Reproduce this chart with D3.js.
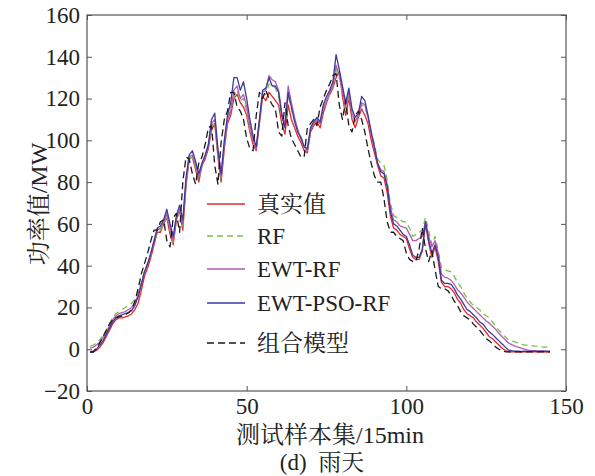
<!DOCTYPE html>
<html>
<head>
<meta charset="utf-8">
<script src="https://cdn.jsdelivr.net/npm/d3@7"></script>
<style>
  body { margin: 0; background: #fff; }
  text { font-family: "Liberation Serif", "Times New Roman", "Noto Serif CJK SC", "Noto Sans CJK SC", serif; fill: #222; }
</style>
</head>
<body>
<div id="chart"></div>
<script>
// sample index 1..145
var xIdx = d3.range(1, 146);

var trueVals = [-1,-1,-0.5,1,3,6,9,12,14,15,15,15.5,16,17,19,22,28,35,39,44,
  50,56,56,60,63,55,50,62,66,57,78,91,92,86,80,88,91,96,105,108,
  92,80,96,108,112,120,122,118,116,112,104,98,95,108,121,119,123,121,119,117,
  108,103,117,110,106,102,99,95,94,104,107,109,106,113,118,122,125,130,133,121,
  112,120,110,106,111,115,112,108,100,94,88,83,82,75,64,58,57,55,54,53,
  48,44,43,43,47,60,51,44,49,42,32,30,30,29,27,24,22,19,17,16,
  15,13,11.6,10,8,6,5,3.5,2,0.5,-0.5,-1.3,-1.3,-1.2,-1.3,-1.4,-1.3,-1.2,-1.3,-1.3,
  -1.2,-1.3,-1.3,-1.4,-1.3];

var rfVals = [1.5,2,3,4.5,6.5,9,12,15,17,18,19,20,21,22,24,27,32,37,41,45,
  51,56,57,60,64,57,51,62,66,59,79,91,92,87,81,88,92,97,107,109,
  93,81,97,110,115,121,124,119,120,114,105,99,96,109,122,122,127,126,125,121,
  111,106,122,115,110,105,102,98,95,105,108,110,108,115,119,122,126,134,130,123,
  115,122,113,109,112,117,116,111,104,98,91,89,88,81,70,64,63,62,61,61,
  58,54,55,56,57,63,57,50,54,47,39,38,37.5,37,35,32,30,27,24.5,22.6,
  21,20,18.8,17,16,15,13,11,9,7.5,6,4.4,4,3.5,3,2.5,2,2,1.8,1.5,
  1.5,1.2,1,1,1];

var ewtRfVals = [0.5,1,2,3.5,5.5,8,11,14,16,17,17.5,18,19,20,22,26,31,37,41,46,
  52,57,58,61,65,58,52,63,67,60,80,92,93,88,82,88,92,97,108,110,
  94,82,98,110,114,124,126,120,122,116,107,100,96,109,123,124,131,129,128,124,
  113,108,126,118,111,105,101,97,95,105,108,110,108,115,119,123,126,136,131,124,
  116,123,113,109,112,118,117,111,103,96,89,86,85,79,68,62,61,59,58.5,58,
  55,52,52,53,54,61,54,49,52,46,36,34.5,34,33,31,28.5,27,25,22.6,21,
  19.5,18,16.5,15,13.5,12.5,11,9.5,7.5,6,4.5,3,2.2,1.5,1,0.5,0,-0.4,-0.6,-0.7,
  -0.8,-0.8,-0.9,-0.9,-0.9];

var psoVals = [-1.5,-1.5,0,2,4,7,10,13,15,16,16.5,17,17.5,18.5,21,25,31,37,41,46,
  52,58,59,62,67,60,54,64,69,62,82,93,95,90,84,89,93,98,110,113,
  96,84,100,112,118,130,130,124,128,120,110,102,97,110,124,125,130,126,126,123,
  112,106,123,116,109,104,101,97,96,106,109,111,109,117,121,124,128,141,134,126,
  118,125,115,111,113,121,119,112,104,97,89,85,84,78,66,60,59,57,55,54,
  50,45,44,44,48,61,52,46,50,44,33,31.5,31.5,31,29,26,24,21.5,19,18,
  16.5,15,13,12,10,8.2,7,5.5,4,2.5,1,-0.4,-0.7,-0.9,-0.9,-1,-0.9,-1,-1,-0.9,
  -1,-1,-0.9,-1,-1];

var comboVals = [-1.5,-1,0.5,3,6,9,12,14,15,15.5,16,16.5,17.5,19,23,29,36,41,46,52,
  57,57,61,62,52,49,63,65,56,80,92,91,84,79,89,92,98,106,107,88,
  79,99,110,114,123,123,116,114,110,101,96,95,112,123,120,124,120,117,115,104,
  102,118,107,101,98,95,92,92,106,108,110,107,116,120,124,127,131,132,117,110,
  119,107,104,112,114,110,104,96,89,83,80,80,72,61,56,56,54,53,52,46,
  43,42,42,48,58,48,42,47,38,30,29,29,28,26,23,21,18,16,15,14,
  12,10.5,9,7,5,4,2.5,1,0,-0.8,-1.2,-1.3,-1.3,-1.2,-1.3,-1.3,-1.2,-1.3,-1.3,-1.2,
  -1.3,-1.3,-1.2,-1.3,-1.3];

var seriesNames = ['真实值', 'RF', 'EWT-RF', 'EWT-PSO-RF', '组合模型'];
var seriesVals = [trueVals, rfVals, ewtRfVals, psoVals, comboVals];
var seriesColors = ['#e8262b', '#7cc043', '#b15bb5', '#3b3a9c', '#1a1a1a'];
var seriesDash = [null, '6,4', null, null, '7,4'];
var drawOrder = [0, 1, 2, 3, 4];

var xTicks = [0, 50, 100, 150];
var yTicks = [-20, 0, 20, 40, 60, 80, 100, 120, 140, 160];

var W = 595, H = 476;
var plotL = 87, plotR = 566, plotT = 15, plotB = 391;

var svg = d3.select('#chart').append('svg')
  .attr('width', W)
  .attr('height', H);

var x = d3.scaleLinear().domain([0, 150]).range([plotL, plotR]);
var y = d3.scaleLinear().domain([-20, 160]).range([plotB, plotT]);

var line = d3.line()
  .x(function (d, i) { return x(xIdx[i]); })
  .y(function (d) { return y(d); });

svg.append('clipPath').attr('id', 'clip')
  .append('rect')
  .attr('x', plotL).attr('y', plotT)
  .attr('width', plotR - plotL).attr('height', plotB - plotT);

var lines = svg.append('g').attr('clip-path', 'url(#clip)');
drawOrder.forEach(function (k) {
  lines.append('path')
    .datum(seriesVals[k])
    .attr('d', line)
    .attr('fill', 'none')
    .attr('stroke', seriesColors[k])
    .attr('stroke-width', 1.3)
    .attr('stroke-linejoin', 'round')
    .attr('stroke-dasharray', seriesDash[k]);
});

// axes, ticks pointing inward
function styleAxis(g) {
  g.selectAll('.domain').remove();
  g.selectAll('.tick line').attr('stroke', '#555').attr('stroke-width', 1);
  g.selectAll('text').attr('font-size', '23px')
    .style('font-family', '"Liberation Serif", "Times New Roman", serif')
    .attr('fill', '#222');
}

svg.append('g')
  .attr('transform', 'translate(0,' + plotB + ')')
  .call(d3.axisBottom(x).tickValues(xTicks).tickSize(-5).tickPadding(7))
  .call(styleAxis);

svg.append('g')
  .attr('transform', 'translate(0,' + plotT + ')')
  .call(d3.axisTop(x).tickValues(xTicks).tickSize(-5).tickFormat(''))
  .call(styleAxis);

svg.append('g')
  .attr('transform', 'translate(' + plotL + ',0)')
  .call(d3.axisLeft(y).tickValues(yTicks).tickSize(-5).tickPadding(7))
  .call(styleAxis);

svg.append('g')
  .attr('transform', 'translate(' + plotR + ',0)')
  .call(d3.axisRight(y).tickValues(yTicks).tickSize(-5).tickFormat(''))
  .call(styleAxis);

svg.append('rect')
  .attr('x', plotL).attr('y', plotT)
  .attr('width', plotR - plotL).attr('height', plotB - plotT)
  .attr('fill', 'none')
  .attr('stroke', '#555')
  .attr('stroke-width', 1.2);

// legend
var legY = [204, 236, 269, 303, 343];
var leg = svg.append('g');
seriesNames.forEach(function (name, k) {
  leg.append('line')
    .attr('x1', 207).attr('x2', 245)
    .attr('y1', legY[k]).attr('y2', legY[k])
    .attr('stroke', seriesColors[k])
    .attr('stroke-width', 1.3)
    .attr('stroke-dasharray', seriesDash[k]);
  leg.append('text')
    .attr('x', 257)
    .attr('y', legY[k] + 8)
    .attr('font-size', '23px')
    .text(name);
});

// axis titles
svg.append('text')
  .attr('transform', 'translate(47,204) rotate(-90)')
  .attr('text-anchor', 'middle')
  .attr('font-size', '24px')
  .text('功率值/MW');

svg.append('text')
  .attr('x', 330)
  .attr('y', 443)
  .attr('text-anchor', 'middle')
  .attr('font-size', '24px')
  .text('测试样本集/15min');

svg.append('text')
  .attr('x', 322)
  .attr('y', 470)
  .attr('text-anchor', 'middle')
  .attr('font-size', '23px')
  .style('white-space', 'pre')
  .text('(d)  雨天');
</script>
</body>
</html>
